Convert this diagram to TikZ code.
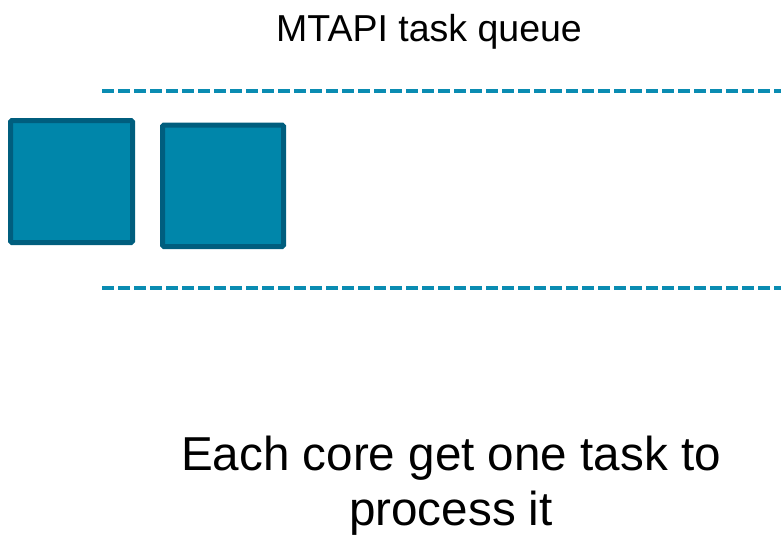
\documentclass[tikz,border=0pt]{standalone}
\usepackage{fontspec}
\setmainfont{Liberation Sans}
\definecolor{boxfill}{HTML}{0086AA}
\definecolor{boxline}{HTML}{005E7E}
\definecolor{dashcol}{HTML}{0A8CB2}
\begin{document}
\begin{tikzpicture}[x=1pt,y=-1pt,
  taskbox/.style={draw=boxline,fill=boxfill,line width=5pt,rounded corners=1.5pt},
  queueline/.style={draw=dashcol,line width=3.5pt,dash pattern=on 12pt off 4pt},
  lbl/.style={inner sep=0pt,anchor=base,text=black}]
\useasboundingbox (0,0) rectangle (781,539);
\node[lbl,font=\fontsize{37.5}{43}\selectfont] (title) at (429,41) {MTAPI task queue};
\coordinate (t1) at (102,91);
\coordinate (t2) at (781,91);
\coordinate (b1) at (102,288);
\coordinate (b2) at (781,288);
\draw[queueline] (t1) -- (t2);
\draw[queueline] (b1) -- (b2);
\draw[taskbox] (10.5,120.5) rectangle (132.5,242.5);
\draw[taskbox] (162.5,125) rectangle (283.5,246.5);
\node[lbl,font=\fontsize{47.6}{55}\selectfont,align=center,anchor=base] (caption) at (451,525) {Each core get one task to\\process it};
\end{tikzpicture}
\end{document}
